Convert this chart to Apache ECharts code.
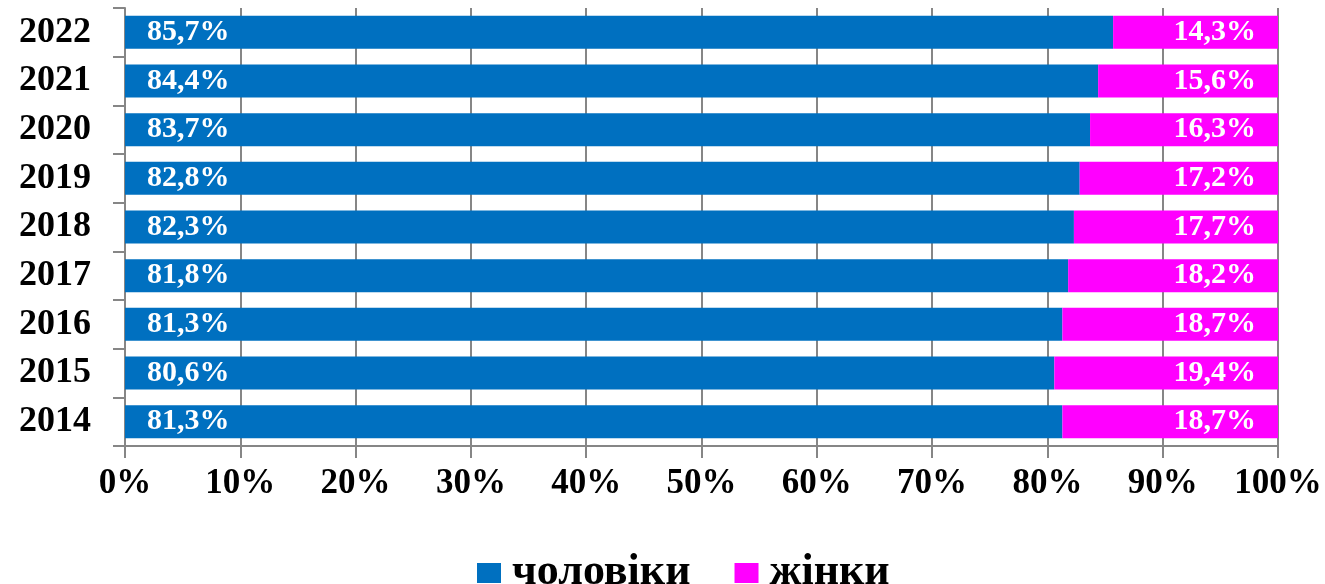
<!DOCTYPE html>
<html>
<head>
<meta charset="utf-8">
<script src="https://cdn.jsdelivr.net/npm/echarts@6/dist/echarts.min.js"></script>
<style>
    html, body { margin: 0; padding: 0; background: #fff; }
    #chart { width: 1325px; height: 584px; }
</style>
</head>
<body>
<div id="chart"></div>
<script>
    // years bottom -> top
    var years = ['2014', '2015', '2016', '2017', '2018', '2019', '2020', '2021', '2022'];
    var men = [81.3, 80.6, 81.3, 81.8, 82.3, 82.8, 83.7, 84.4, 85.7];
    var women = [18.7, 19.4, 18.7, 18.2, 17.7, 17.2, 16.3, 15.6, 14.3];
    var xTicks = [0, 10, 20, 30, 40, 50, 60, 70, 80, 90, 100];

    var serif = '"Liberation Serif", "Times New Roman", serif';
    var gray = '#868686';

    function pct(p) {
        return p.value.toFixed(1).replace('.', ',') + '%';
    }

    var chart = echarts.init(document.getElementById('chart'));
    chart.setOption({
        animation: false,
        grid: { left: 125, right: 47, top: 8, bottom: 138 },
        legend: {
            data: ['чоловіки', 'жінки'],
            left: 472,
            top: 546,
            itemWidth: 24,
            itemHeight: 20,
            itemGap: 44,
            icon: 'rect',
            textStyle: {
                fontFamily: serif, fontWeight: 'bold', fontSize: 44, color: '#000',
                padding: [0, 0, 0, 6]
            }
        },
        xAxis: {
            type: 'value',
            min: xTicks[0],
            max: xTicks[xTicks.length - 1],
            interval: 10,
            axisLine: { show: true, lineStyle: { color: gray, width: 2 } },
            axisTick: { show: true, length: 12, lineStyle: { color: gray, width: 2 } },
            splitLine: { show: true, lineStyle: { color: gray, width: 2 } },
            axisLabel: {
                margin: 20,
                formatter: '{value}%',
                fontFamily: serif, fontWeight: 'bold', fontSize: 35, color: '#000'
            }
        },
        yAxis: {
            type: 'category',
            data: years,
            axisLine: { show: true, lineStyle: { color: gray, width: 2 } },
            axisTick: { show: true, length: 12, lineStyle: { color: gray, width: 2 } },
            axisLabel: {
                margin: 34,
                fontFamily: serif, fontWeight: 'bold', fontSize: 36, color: '#000'
            }
        },
        series: [
            {
                name: 'чоловіки',
                type: 'bar',
                stack: 'all',
                barWidth: 33,
                data: men,
                itemStyle: { color: '#0070C0' },
                label: {
                    show: true, position: 'insideLeft', distance: 22,
                    formatter: pct,
                    fontFamily: serif, fontWeight: 'bold', fontSize: 30, color: '#fff'
                }
            },
            {
                name: 'жінки',
                type: 'bar',
                stack: 'all',
                barWidth: 33,
                data: women,
                itemStyle: { color: '#FF00FF' },
                label: {
                    show: true, position: 'insideRight', distance: 22,
                    formatter: pct,
                    fontFamily: serif, fontWeight: 'bold', fontSize: 30, color: '#fff'
                }
            }
        ]
    });
</script>
</body>
</html>
